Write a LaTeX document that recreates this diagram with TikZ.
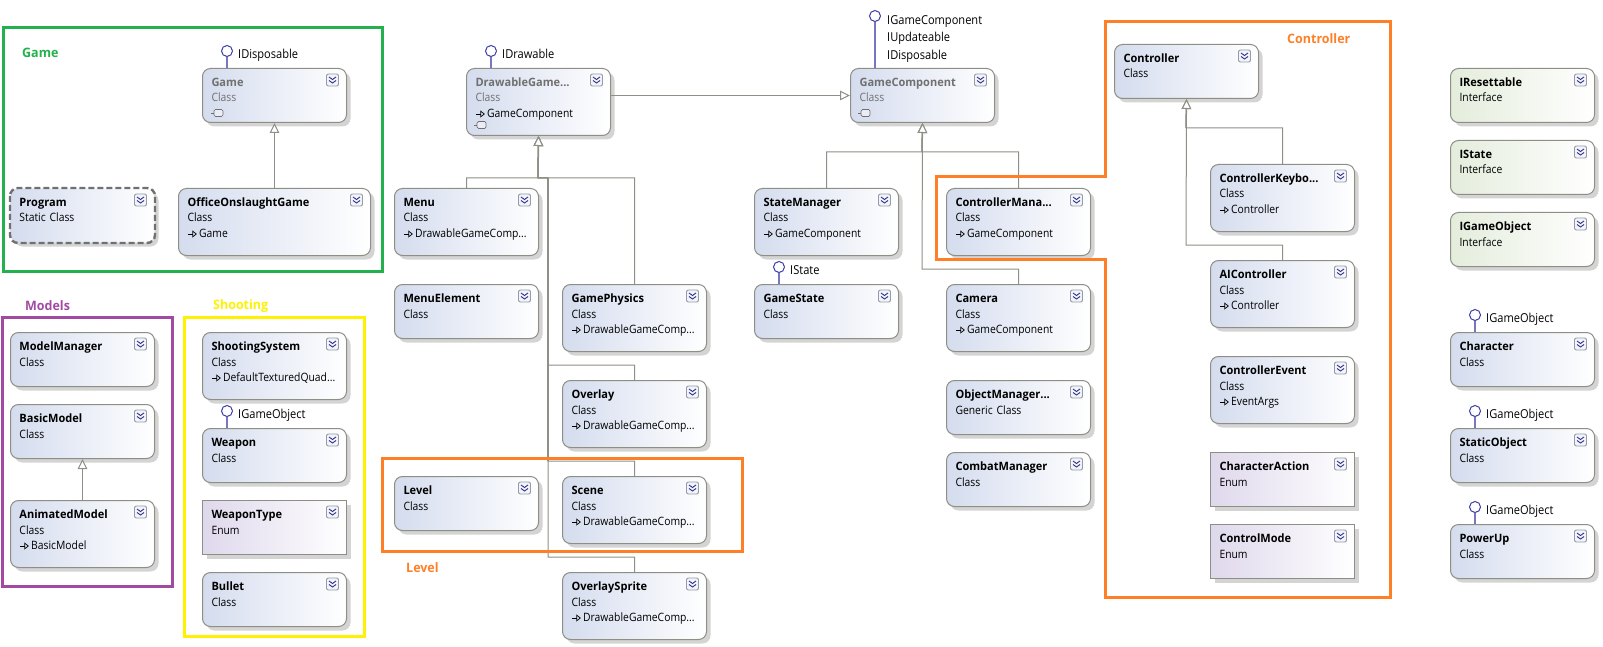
\documentclass[tikz,border=0pt]{standalone}
\usepackage{fontspec}
\setmainfont{Open Sans}[FakeStretch=0.9,BoldFeatures={FakeStretch=0.96}]
\usetikzlibrary{positioning,calc,shadows,arrows.meta}

\definecolor{classfill}{HTML}{D4DCEE}
\definecolor{enumfill}{HTML}{DFD8EC}
\definecolor{ifacefill}{HTML}{E4EDDC}
\definecolor{boxedge}{HTML}{8E8E84}
\definecolor{linkgrey}{HTML}{8F8F86}
\definecolor{lollyblue}{HTML}{3C3CA8}
\definecolor{dimtext}{HTML}{707070}
\definecolor{framegreen}{HTML}{22B14C}
\definecolor{framepurple}{HTML}{A349A4}
\definecolor{frameyellow}{HTML}{FFF200}
\definecolor{frameorange}{HTML}{FF7F27}

% small hollow arrow in front of a base class
\newcommand{\basemark}{\tikz[baseline=-3.5pt,x=1pt,y=1pt]\draw[line width=.7pt,-{Triangle[open,length=4.5pt,width=7pt]}] (0,0) -- (9,0);\,}
% expander button in the top right corner of a box
\newcommand{\expander}[1]{%
    \draw[fill=white!70!classfill, draw=black!30!classfill, line width=.9pt, rounded corners=2pt]
        ($(#1.north east)+(-20.5,6)$) rectangle ($(#1.north east)+(-8.5,18)$);
    \draw[draw=lollyblue!80!black, line width=.9pt]
        ($(#1.north east)+(-18,9)$) -- ($(#1.north east)+(-14.5,11.5)$) -- ($(#1.north east)+(-11,9)$)
        ($(#1.north east)+(-18,12.5)$) -- ($(#1.north east)+(-14.5,15)$) -- ($(#1.north east)+(-11,12.5)$);
}
% lollipop above a box, with the interface name beside it
\newcommand{\lolly}[2]{%
    \node[lollyhead] (#1-lolly) at ($(#1.north west)+(25,-17)$) {};
    \draw[lollystem] (#1-lolly) -- (#1-lolly |- #1.north);
    \node[lollytext] (#1-iface) at ($(#1-lolly)+(11,7.5)$) {#2};
}
% small component sign, on the last line of a dimmed box
\newcommand{\compsign}[1]{%
    \draw[draw=dimtext, line width=.7pt] ($(#1)+(0,0)$) -- ($(#1)+(3,0)$);
    \draw[draw=dimtext, fill=classfill!50, line width=.7pt, rounded corners=1.5pt] ($(#1)+(3,-3.5)$) rectangle ($(#1)+(12,3.5)$);
}

\begin{document}
\begin{tikzpicture}[x=1pt, y=-1pt,
    % box styles
    anybox/.style={draw=boxedge, line width=1pt, anchor=north west, inner xsep=9pt, inner ysep=0pt,
        text width=126pt, align=left, right color=white, font=\fontsize{11.5}{15.5}\selectfont,
        general shadow={fill=black!17, shadow xshift=4pt, shadow yshift=-4pt}},
    classbox/.style={anybox, left color=classfill, rounded corners=8pt},
    ifacebox/.style={anybox, left color=ifacefill, rounded corners=8pt},
    enumbox/.style={anybox, left color=enumfill},
    lowbox/.style={text height=18pt, text depth=36pt},
    tallbox/.style={text height=18pt, text depth=49pt},
    dimbox/.style={text=dimtext},
    % connector styles
    inherits/.style={draw=linkgrey, line width=1pt, -{Triangle[open, length=10pt, width=9.5pt, fill=white]}},
    trunk/.style={draw=linkgrey, line width=1.5pt},
    lollyhead/.style={circle, draw=lollyblue, line width=1pt, fill=white, minimum size=11pt, inner sep=0pt},
    lollystem/.style={draw=lollyblue!70, line width=1.2pt},
    lollytext/.style={anchor=base west, inner sep=0pt, font=\fontsize{12.3}{17.5}\selectfont, align=left},
    % group frames and their titles
    groupframe/.style={line width=3pt},
    grouptitle/.style={anchor=west, inner sep=0pt, font=\fontsize{13}{15}\selectfont\bfseries},
]
\useasboundingbox (0,0) rectangle (1603,647);

% Game group
\node[classbox, lowbox, dimbox] (game) at (202,68) {\textbf{Game}\\Class};
\node[classbox, lowbox, draw=none] (program) at (10,188) {\textbf{Program}\\Static Class};
\node[classbox, tallbox, text width=174pt] (office) at (178,188) {\textbf{OfficeOnslaughtGame}\\Class\\\basemark Game};

% Models group
\node[classbox, lowbox] (modelmanager) at (10,332) {\textbf{ModelManager}\\Class};
\node[classbox, lowbox] (basicmodel) at (10,404) {\textbf{BasicModel}\\Class};
\node[classbox, tallbox] (animatedmodel) at (10,500) {\textbf{AnimatedModel}\\Class\\\basemark BasicModel};

% Shooting group
\node[classbox, tallbox] (shootingsystem) at (202,332) {\textbf{ShootingSystem}\\Class\\\basemark DefaultTexturedQuad...};
\node[classbox, lowbox] (weapon) at (202,428) {\textbf{Weapon}\\Class};
\node[enumbox, lowbox] (weapontype) at (202,500) {\textbf{WeaponType}\\Enum};
\node[classbox, lowbox] (bullet) at (202,572) {\textbf{Bullet}\\Class};

% Drawable column
\node[classbox, tallbox, dimbox] (drawable) at (466,68) {\textbf{DrawableGame...}\\Class\\{\color{black}\basemark GameComponent}};
\node[classbox, tallbox] (menu) at (394,188) {\textbf{Menu}\\Class\\\basemark DrawableGameComp...};
\node[classbox, lowbox] (menuelement) at (394,284) {\textbf{MenuElement}\\Class};
\node[classbox, tallbox] (gamephysics) at (562,284) {\textbf{GamePhysics}\\Class\\\basemark DrawableGameComp...};
\node[classbox, tallbox] (overlay) at (562,380) {\textbf{Overlay}\\Class\\\basemark DrawableGameComp...};
\node[classbox, lowbox] (level) at (394,476) {\textbf{Level}\\Class};
\node[classbox, tallbox] (scene) at (562,476) {\textbf{Scene}\\Class\\\basemark DrawableGameComp...};
\node[classbox, tallbox] (overlaysprite) at (562,572) {\textbf{OverlaySprite}\\Class\\\basemark DrawableGameComp...};

% GameComponent column
\node[classbox, lowbox, dimbox] (gamecomp) at (850,68) {\textbf{GameComponent}\\Class};
\node[classbox, tallbox] (statemanager) at (754,188) {\textbf{StateManager}\\Class\\\basemark GameComponent};
\node[classbox, tallbox] (controllermanager) at (946,188) {\textbf{ControllerMana...}\\Class\\\basemark GameComponent};
\node[classbox, lowbox] (gamestate) at (754,284) {\textbf{GameState}\\Class};
\node[classbox, tallbox] (camera) at (946,284) {\textbf{Camera}\\Class\\\basemark GameComponent};
\node[classbox, lowbox] (objectmanager) at (946,380) {\textbf{ObjectManager...}\\Generic Class};
\node[classbox, lowbox] (combatmanager) at (946,452) {\textbf{CombatManager}\\Class};

% Controller group
\node[classbox, lowbox] (controller) at (1114,44) {\textbf{Controller}\\Class};
\node[classbox, tallbox] (keyboard) at (1210,164) {\textbf{ControllerKeybo...}\\Class\\\basemark Controller};
\node[classbox, tallbox] (aicontroller) at (1210,260) {\textbf{AIController}\\Class\\\basemark Controller};
\node[classbox, tallbox] (controllerevent) at (1210,356) {\textbf{ControllerEvent}\\Class\\\basemark EventArgs};
\node[enumbox, lowbox] (characteraction) at (1210,452) {\textbf{CharacterAction}\\Enum};
\node[enumbox, lowbox] (controlmode) at (1210,524) {\textbf{ControlMode}\\Enum};

% Right column
\node[ifacebox, lowbox] (iresettable) at (1450,68) {\textbf{IResettable}\\Interface};
\node[ifacebox, lowbox] (istate) at (1450,140) {\textbf{IState}\\Interface};
\node[ifacebox, lowbox] (igameobject) at (1450,212) {\textbf{IGameObject}\\Interface};
\node[classbox, lowbox] (character) at (1450,332) {\textbf{Character}\\Class};
\node[classbox, lowbox] (staticobject) at (1450,428) {\textbf{StaticObject}\\Class};
\node[classbox, lowbox] (powerup) at (1450,524) {\textbf{PowerUp}\\Class};

% Program has a dashed outline
\draw[draw=dimtext, line width=2.4pt, dash pattern=on 6pt off 3pt, rounded corners=8pt] (program.north west) rectangle (program.south east);

% Expander buttons
\foreach \boxname in {game,program,office,modelmanager,basicmodel,animatedmodel,shootingsystem,weapon,weapontype,bullet,
    drawable,menu,menuelement,gamephysics,overlay,level,scene,overlaysprite,
    gamecomp,statemanager,controllermanager,gamestate,camera,objectmanager,combatmanager,
    controller,keyboard,aicontroller,controllerevent,characteraction,controlmode,
    iresettable,istate,igameobject,character,staticobject,powerup}{
    \expander{\boxname}
}

% Component signs
\coordinate (game-sign) at (211,113);
\coordinate (drawable-sign) at (474,125);
\coordinate (gamecomp-sign) at (858,113);
\compsign{game-sign}
\compsign{drawable-sign}
\compsign{gamecomp-sign}

% Lollipops
\lolly{game}{IDisposable}
\lolly{weapon}{IGameObject}
\lolly{drawable}{IDrawable}
\lolly{gamestate}{IState}
\lolly{character}{IGameObject}
\lolly{staticobject}{IGameObject}
\lolly{powerup}{IGameObject}
\node[lollyhead] (gamecomp-lolly) at (875,16) {};
\draw[lollystem] (gamecomp-lolly) -- (gamecomp-lolly |- gamecomp.north);
\node[lollytext, anchor=north west] (gamecomp-iface) at (887,15) {IGameComponent\\IUpdateable\\IDisposable};

% Inheritance connectors
\draw[inherits] (office.north) -- (game.south);
\draw[inherits] (animatedmodel.north) -- (basicmodel.south);

\coordinate (drawable-bus) at (538,178);
\coordinate (drawable-spine) at (548,178);
\coordinate (overlay-tap) at (548,365);
\coordinate (scene-tap) at (548,461);
\coordinate (sprite-tap) at (548,557);
\draw[inherits] (drawable.east |- gamecomp.west) -- (gamecomp.west);
\draw[inherits] (menu.north) |- (drawable-bus) -- (drawable.south);
\draw[inherits] (gamephysics.north) |- (drawable-bus) -- (drawable.south);
\draw[inherits] (overlay.north) |- (overlay-tap) -- (drawable-spine) -- (drawable-bus) -- (drawable.south);
\draw[inherits] (scene.north) |- (scene-tap) -- (drawable-spine) -- (drawable-bus) -- (drawable.south);
\draw[inherits] (overlaysprite.north) |- (sprite-tap) -- (drawable-spine) -- (drawable-bus) -- (drawable.south);
\draw[trunk, shorten >=10pt] (drawable-bus) -- (drawable.south);
\draw[trunk] (drawable-spine) -- (scene-tap);

\coordinate (gamecomp-bus) at (922,152);
\coordinate (camera-tap) at (922,269);
\draw[inherits] (statemanager.north) |- (gamecomp-bus) -- (gamecomp.south);
\draw[inherits] (controllermanager.north) |- (gamecomp-bus) -- (gamecomp.south);
\draw[inherits] (camera.north) |- (camera-tap) -- (gamecomp.south);
\draw[trunk, shorten >=10pt] (gamecomp-bus) -- (gamecomp.south);

\coordinate (controller-bus) at (1186,128);
\coordinate (ai-tap) at (1186,245);
\draw[inherits] (keyboard.north) |- (controller-bus) -- (controller.south);
\draw[inherits] (aicontroller.north) |- (ai-tap) -- (controller.south);
\draw[trunk, shorten >=10pt] (controller-bus) -- (controller.south);

% Group frames
\draw[groupframe, draw=framegreen] (3,28) rectangle (382,271);
\draw[groupframe, draw=framepurple] (2,317) rectangle (172,586);
\draw[groupframe, draw=frameyellow] (184,317) rectangle (364,636);
\draw[groupframe, draw=frameorange] (382,458) rectangle (742,551);
\draw[groupframe, draw=frameorange] (1105,22) -- (1390,22) -- (1390,597) -- (1105,597) -- (1105,259) -- (936,259) -- (936,177) -- (1105,177) -- cycle;

% Group titles
\node[grouptitle, text=framegreen] (game-title) at (22,53) {Game};
\node[grouptitle, text=framepurple] (models-title) at (25,306) {Models};
\node[grouptitle, text=frameyellow] (shooting-title) at (213,306) {Shooting};
\node[grouptitle, text=frameorange] (level-title) at (406,568) {Level};
\node[grouptitle, text=frameorange] (controller-title) at (1287,39) {Controller};

\end{tikzpicture}
\end{document}
